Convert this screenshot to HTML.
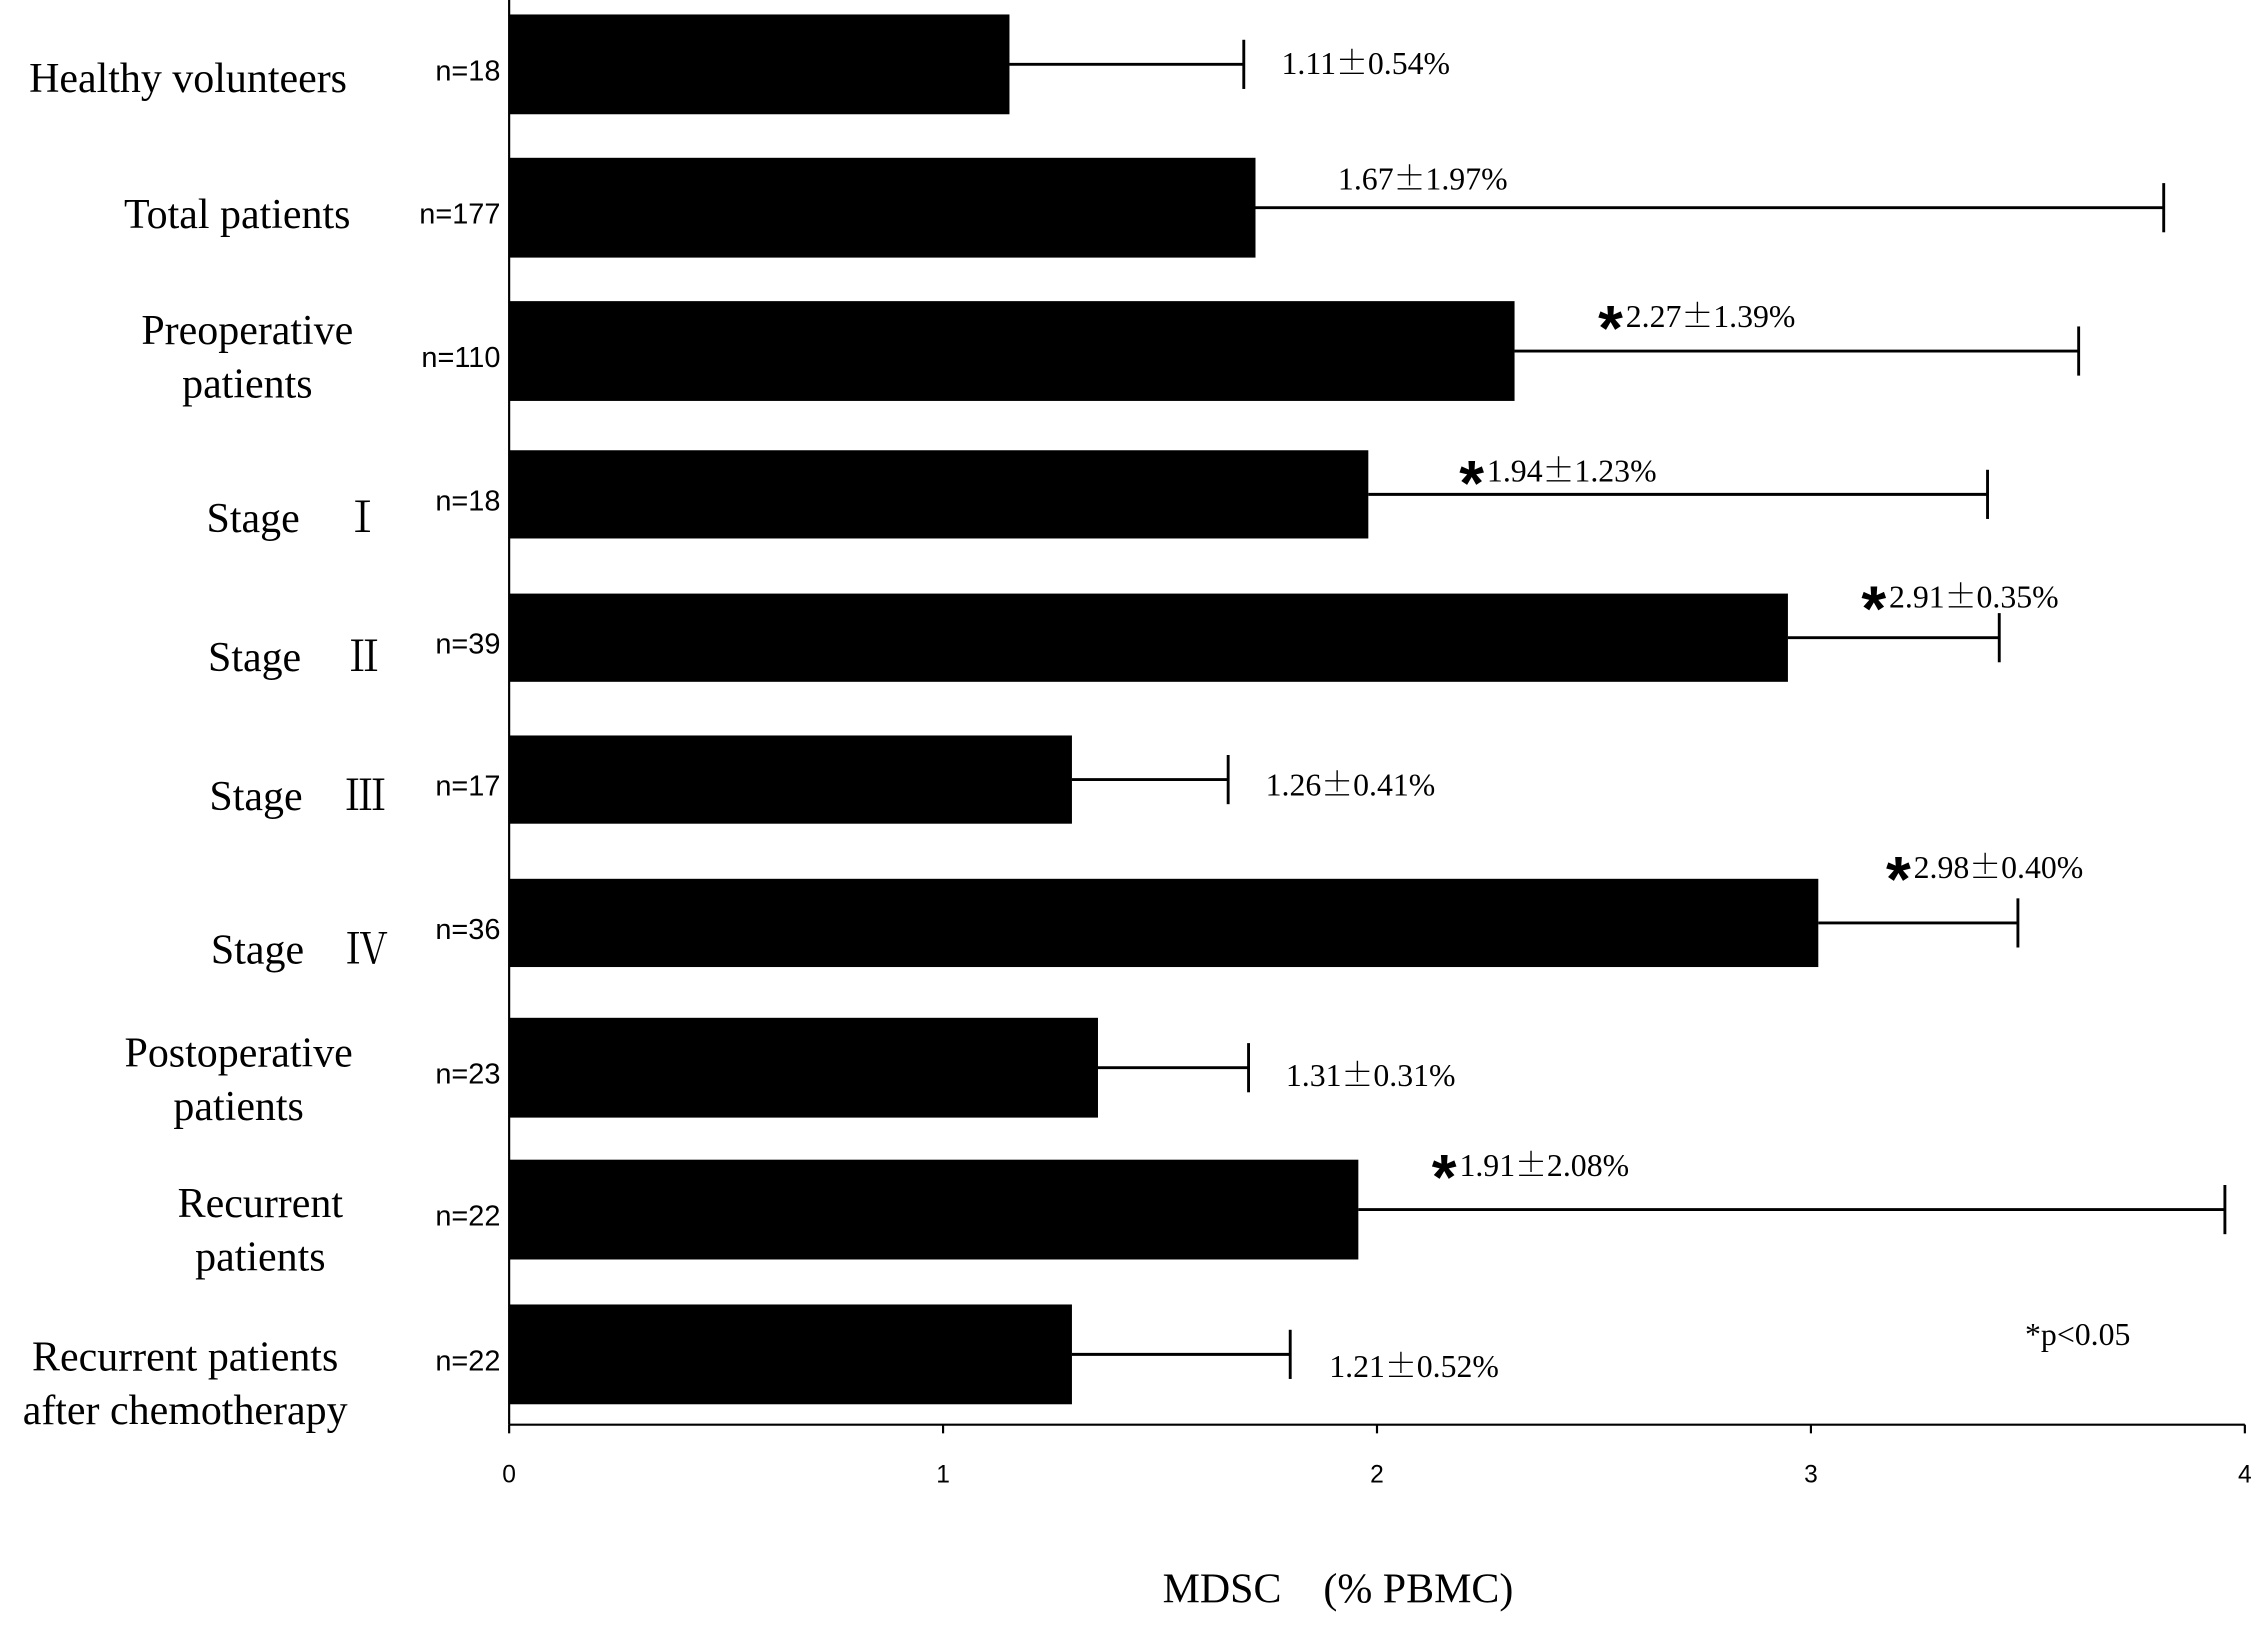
<!DOCTYPE html>
<html><head><meta charset="utf-8"><style>
html,body{margin:0;padding:0;background:#fff;}
svg{display:block;}
.cat{font-family:"Liberation Serif","Noto Serif CJK SC",serif;font-size:29px;fill:#000;}
.n{font-family:"Liberation Sans",sans-serif;font-size:20px;fill:#000;}
.val{font-family:"Liberation Serif","Noto Serif CJK SC",serif;font-size:22px;fill:#000;}
.pm{font-family:"Noto Serif CJK SC",serif;}
.tick{font-family:"Liberation Sans",sans-serif;font-size:17px;fill:#000;}
</style></head><body>
<svg id="chart" width="2268" height="1626" viewBox="0 0 1568 1124.2" preserveAspectRatio="none" xmlns="http://www.w3.org/2000/svg">
<text class="cat" x="925" y="1108" text-anchor="middle">MDSC　(% PBMC)</text>
<text class="val" x="1400" y="930">*p&lt;0.05</text>
</svg>
<script>
const categories = [["Healthy volunteers"],["Total patients"],["Preoperative","patients"],["Stage　Ⅰ"],["Stage　Ⅱ"],["Stage　Ⅲ"],["Stage　Ⅳ"],["Postoperative","patients"],["Recurrent","patients"],["Recurrent patients","after chemotherapy"]];
const nLabels = ["n=18","n=177","n=110","n=18","n=39","n=17","n=36","n=23","n=22","n=22"];
const values = [1.153,1.72,2.317,1.98,2.947,1.297,3.017,1.357,1.957,1.297];
const errors = [0.54,2.093,1.3,1.427,0.487,0.36,0.46,0.347,1.997,0.503];
const valueLabels = [["1.11","0.54%"],["1.67","1.97%"],["2.27","1.39%"],["1.94","1.23%"],["2.91","0.35%"],["1.26","0.41%"],["2.98","0.40%"],["1.31","0.31%"],["1.91","2.08%"],["1.21","0.52%"]];
const significant = [false,false,true,true,true,false,true,false,true,false];
const xTicks = [0,1,2,3,4];
// layout (not data)
const labelPos = [[886,51],[925,131],[1124,226],[1028,333],[1306,420],[875,550],[1323,607],[889,751],[1009,813],[919,952]];
const catX = [130,164,171,204,205,206,207,165,180,128];
const catDy = [9,4,2,16,13,11,18,6,12,18];
const topAdj = [0,0,0,4,4,3,3,0,-1,0];
const barHs = [69,69,69,61,61,61,61,69,69,69];

const svg = document.getElementById('chart');
const NS = 'http://www.w3.org/2000/svg';
const x0 = 352, pxPerUnit = 300, axisY = 985;
const xs = v => x0 + v * pxPerUnit;
const bandTop = i => 10 + i * 99.1;
function mk(tag, attrs){const e=document.createElementNS(NS,tag);for(const k in attrs)e.setAttribute(k,attrs[k]);svg.appendChild(e);return e;}

let ax = mk('line',{x1:x0,y1:0,x2:x0,y2:axisY,stroke:'#000','stroke-width':1.5});


let bx = mk('line',{x1:x0,y1:axisY,x2:xs(4),y2:axisY,stroke:'#000','stroke-width':1.5});


xTicks.forEach(t=>{
  const tl = mk('line',{x1:xs(t),y1:axisY,x2:xs(t),y2:axisY+6,stroke:'#000','stroke-width':1.5});
  
  
  const tx = mk('text',{x:xs(t),y:axisY+40,'text-anchor':'middle',class:'tick'});
  tx.textContent = t;
  
  
});

categories.forEach((c,i)=>{
  const top = bandTop(i) + topAdj[i], h = barHs[i], cy = top + h/2;
  const r = mk('rect',{x:x0,y:top,width:xs(values[i])-x0,height:h,fill:'#000'});
  
  
  const e1 = xs(values[i]), e2 = xs(values[i]+errors[i]);
  const el = mk('line',{x1:e1,y1:cy,x2:e2,y2:cy,stroke:'#000','stroke-width':2});
  
  
  const cap = mk('line',{x1:e2,y1:cy-17,x2:e2,y2:cy+17,stroke:'#000','stroke-width':2});
  
  
  const n = mk('text',{x:346,y:cy+11,'text-anchor':'end',class:'n'});
  n.textContent = nLabels[i];
  
  
  const lab = mk('text',{x:catX[i],'text-anchor':'middle',class:'cat'});
  
  
  const startY = (c.length===1 ? cy+10 : cy-7) + catDy[i];
  c.forEach((line,k)=>{const ts=document.createElementNS(NS,'tspan');ts.setAttribute('x',catX[i]);ts.setAttribute('y',startY+k*37);ts.textContent=line;lab.appendChild(ts);});
  const [lx,ly] = labelPos[i];
  const v = mk('text',{x:lx,y:ly,class:'val'});
  
  
  v.appendChild(document.createTextNode(valueLabels[i][0]));
  const pm=document.createElementNS(NS,'tspan');pm.setAttribute('class','pm');pm.textContent='±';v.appendChild(pm);
  v.appendChild(document.createTextNode(valueLabels[i][1]));
  if(significant[i]){
    const s = mk('text',{x:lx-2,y:ly+16,'text-anchor':'end','font-family':'Liberation Sans, sans-serif','font-size':44,'font-weight':'bold'});
    s.textContent='*';
    
    
  }
});
</script>
</body></html>
